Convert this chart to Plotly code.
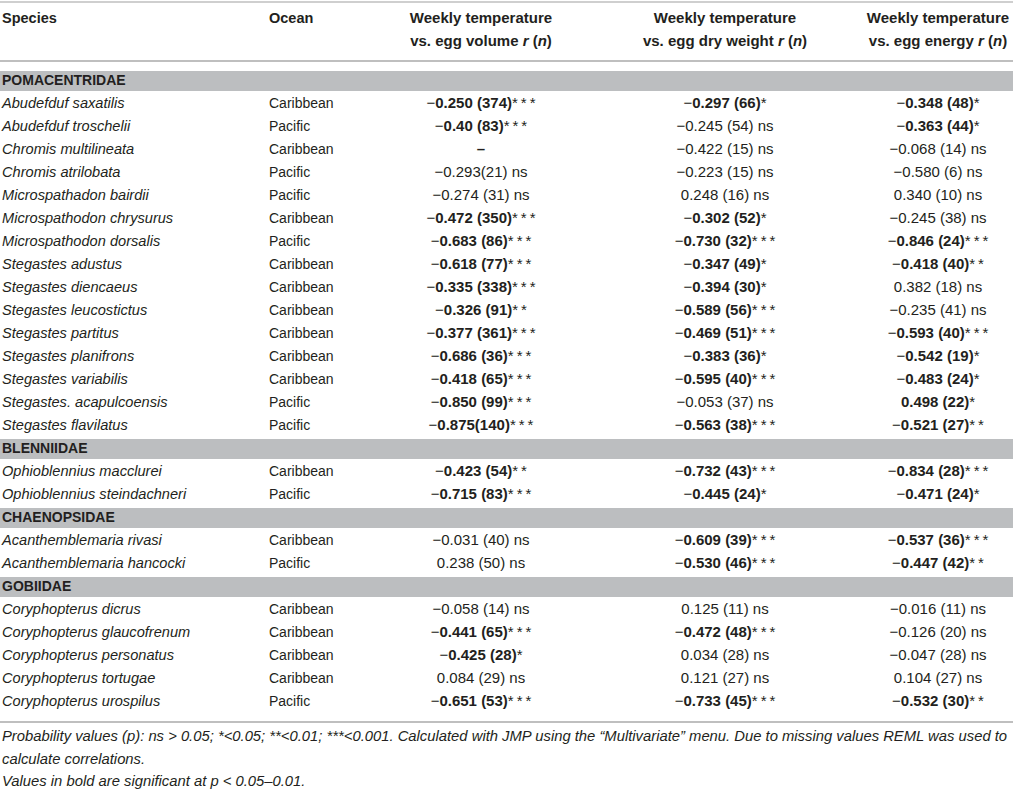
import plotly.graph_objects as go

families = ["POMACENTRIDAE", "BLENNIIDAE", "CHAENOPSIDAE", "GOBIIDAE"]
family_sizes = [15, 2, 2, 5]

species = [
    "Abudefduf saxatilis", "Abudefduf troschelii", "Chromis multilineata", "Chromis atrilobata",
    "Microspathadon bairdii", "Microspathodon chrysurus", "Microspathodon dorsalis",
    "Stegastes adustus", "Stegastes diencaeus", "Stegastes leucostictus", "Stegastes partitus",
    "Stegastes planifrons", "Stegastes variabilis", "Stegastes. acapulcoensis", "Stegastes flavilatus",
    "Ophioblennius macclurei", "Ophioblennius steindachneri",
    "Acanthemblemaria rivasi", "Acanthemblemaria hancocki",
    "Coryphopterus dicrus", "Coryphopterus glaucofrenum", "Coryphopterus personatus",
    "Coryphopterus tortugae", "Coryphopterus urospilus",
]
ocean = [
    "Caribbean", "Pacific", "Caribbean", "Pacific", "Pacific", "Caribbean", "Pacific",
    "Caribbean", "Caribbean", "Caribbean", "Caribbean", "Caribbean", "Caribbean", "Pacific", "Pacific",
    "Caribbean", "Pacific",
    "Caribbean", "Pacific",
    "Caribbean", "Caribbean", "Caribbean", "Caribbean", "Pacific",
]
egg_volume = [
    "-0.250 (374)***", "-0.40 (83)***", "–", "-0.293(21) ns", "-0.274 (31) ns",
    "-0.472 (350)***", "-0.683 (86)***", "-0.618 (77)***", "-0.335 (338)***", "-0.326 (91)**",
    "-0.377 (361)***", "-0.686 (36)***", "-0.418 (65)***", "-0.850 (99)***", "-0.875(140)***",
    "-0.423 (54)**", "-0.715 (83)***",
    "-0.031 (40) ns", "0.238 (50) ns",
    "-0.058 (14) ns", "-0.441 (65)***", "-0.425 (28)*", "0.084 (29) ns", "-0.651 (53)***",
]
egg_dry_weight = [
    "-0.297 (66)*", "-0.245 (54) ns", "-0.422 (15) ns", "-0.223 (15) ns", "0.248 (16) ns",
    "-0.302 (52)*", "-0.730 (32)***", "-0.347 (49)*", "-0.394 (30)*", "-0.589 (56)***",
    "-0.469 (51)***", "-0.383 (36)*", "-0.595 (40)***", "-0.053 (37) ns", "-0.563 (38)***",
    "-0.732 (43)***", "-0.445 (24)*",
    "-0.609 (39)***", "-0.530 (46)***",
    "0.125 (11) ns", "-0.472 (48)***", "0.034 (28) ns", "0.121 (27) ns", "-0.733 (45)***",
]
egg_energy = [
    "-0.348 (48)*", "-0.363 (44)*", "-0.068 (14) ns", "-0.580 (6) ns", "0.340 (10) ns",
    "-0.245 (38) ns", "-0.846 (24)***", "-0.418 (40)**", "0.382 (18) ns", "-0.235 (41) ns",
    "-0.593 (40)***", "-0.542 (19)*", "-0.483 (24)*", "0.498 (22)*", "-0.521 (27)**",
    "-0.834 (28)***", "-0.471 (24)*",
    "-0.537 (36)***", "-0.447 (42)**",
    "-0.016 (11) ns", "-0.126 (20) ns", "-0.047 (28) ns", "0.104 (27) ns", "-0.532 (30)**",
]

value_headers = [
    ["Weekly temperature", "vs. egg volume <i>r</i> (<i>n</i>)"],
    ["Weekly temperature", "vs. egg dry weight <i>r</i> (<i>n</i>)"],
    ["Weekly temperature", "vs. egg energy <i>r</i> (<i>n</i>)"],
]
footer = [
    "Probability values (p): ns &gt; 0.05; *&lt;0.05; **&lt;0.01; ***&lt;0.001. Calculated with JMP using the \u201cMultivariate\u201d menu. Due to missing values REML was used to",
    "calculate correlations.",
    "Values in bold are significant at p &lt; 0.05\u20130.01.",
]

TXT = "#231f20"
BAND = "#bcbec0"
LINE = "#bfbfbf"
FONT = "Liberation Sans, Arial, sans-serif"
COL_X = [481, 725, 938]


def fmt(cell):
    # minus sign stays regular, number + n bold when significant, stars regular and spaced
    if cell == "–":
        return "<b>–</b>"
    sign = "\u2212" if cell.startswith("-") else ""
    body = cell.lstrip("-")
    if body.endswith("ns"):
        return sign + body
    core = body.rstrip("*")
    stars = "\u2009".join(body[len(core):])
    return sign + "<b>" + core + "</b>" + stars


# row order: family band then its species, 23 px per row
fam_y = []
sp_y = []
i = 0
for fam, size in zip(families, family_sizes):
    fam_y.append(81 + i * 23)
    i += 1
    for _ in range(size):
        sp_y.append(81 + i * 23)
        i += 1

fig = go.Figure()

# family bands
for y in fam_y:
    fig.add_shape(type="rect", x0=0, x1=1013, y0=y - 10, y1=y + 10,
                  fillcolor=BAND, line_width=0, layer="below")

# rules
fig.add_shape(type="line", x0=0, x1=1013, y0=2, y1=2, line=dict(color="#cfcfcf", width=2))
fig.add_shape(type="line", x0=0, x1=1013, y0=61, y1=61, line=dict(color=LINE, width=2))
fig.add_shape(type="line", x0=0, x1=1013, y0=722, y1=722, line=dict(color=LINE, width=2))


def text_trace(xs, ys, texts, pos, size=14, style="normal"):
    fig.add_trace(go.Scatter(
        x=xs, y=ys, text=texts, mode="text", textposition=pos, hoverinfo="skip",
        textfont=dict(family=FONT, size=size, color=TXT, style=style),
        showlegend=False,
    ))


# header
text_trace([2], [19], ["<b>Species</b>"], "middle right", size=14.5)
text_trace([269], [19], ["<b>Ocean</b>"], "middle right", size=14.5)
for cx, hdr in zip(COL_X, value_headers):
    text_trace([cx, cx], [19, 42], ["<b>" + h + "</b>" for h in hdr], "middle center", size=15)

# family names
text_trace([2] * len(families), fam_y, ["<b>" + f + "</b>" for f in families], "middle right")

# body
text_trace([2] * len(species), sp_y, species, "middle right", size=14.6, style="italic")
text_trace([269] * len(ocean), sp_y, ocean, "middle right")
for cx, col in zip(COL_X, [egg_volume, egg_dry_weight, egg_energy]):
    text_trace([cx] * len(col), sp_y, [fmt(c) for c in col], "middle center", size=15)

# footnotes
text_trace([2, 2, 2], [737, 760, 782], footer, "middle right", size=14.8, style="italic")

fig.update_layout(
    width=1013, height=792,
    margin=dict(l=0, r=0, t=0, b=0),
    paper_bgcolor="white", plot_bgcolor="white",
    xaxis=dict(range=[0, 1013], visible=False, fixedrange=True),
    yaxis=dict(range=[792, 0], visible=False, fixedrange=True),
)

fig.write_html("out.html", config={"displayModeBar": False},
               post_script="document.body.style.margin='0';document.body.style.overflow='hidden';")
